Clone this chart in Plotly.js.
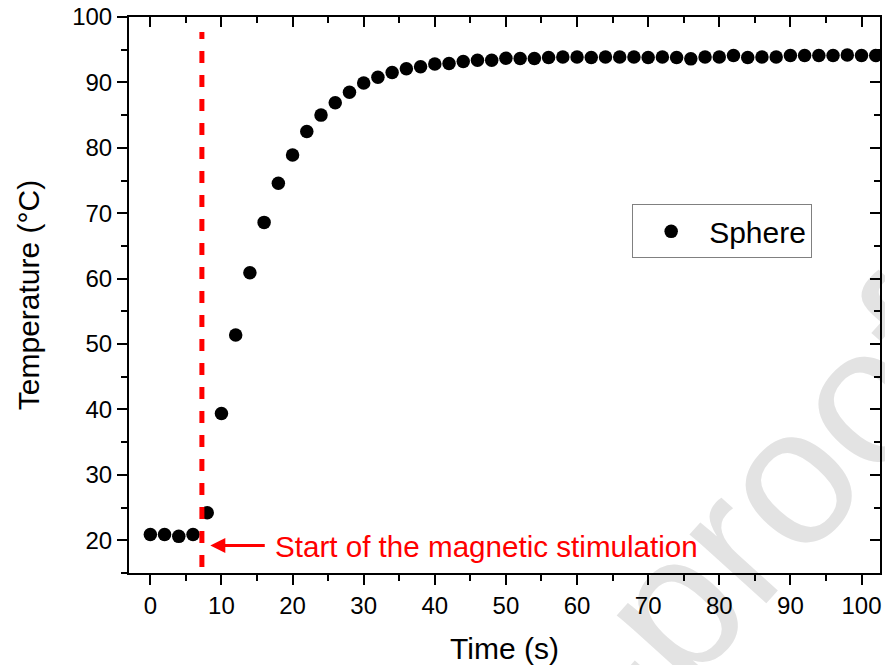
<!DOCTYPE html>
<html>
<head>
<meta charset="utf-8">
<script src="https://cdn.plot.ly/plotly-3.0.1.min.js"></script>
<style>html,body{margin:0;padding:0;background:#fff;}#chart{width:885px;height:665px;}</style>
</head>
<body>
<div id="chart"></div>
<script>
// ---- data ----
const timeSeconds = [0,2,4,6,8,10,12,14,16,18,20,22,24,26,28,30,32,34,36,38,40,42,44,46,48,50,
  52,54,56,58,60,62,64,66,68,70,72,74,76,78,80,82,84,86,88,90,92,94,96,98,100,102];
const sphereTemp = [20.9,20.9,20.6,20.9,24.2,39.4,51.4,60.9,68.6,74.6,78.9,82.5,85.0,86.9,88.5,89.9,
  90.8,91.5,92.1,92.4,92.8,92.9,93.2,93.4,93.4,93.7,93.65,93.65,93.8,93.9,93.9,93.8,93.9,93.9,
  93.9,93.8,93.9,93.8,93.6,93.9,93.9,94.1,93.8,93.9,93.9,94.1,94.1,94.1,94.1,94.2,94.1,94.1];
const seriesName = 'Sphere';
const stimulationStart = 7.25;          // time of the dashed red marker (s)
const stimulationLineSpan = [15.9, 97.7];
const annotationText = 'Start of the magnetic stimulation';
const xTitle = 'Time (s)';
const yTitle = 'Temperature (°C)';
const watermarkText = 'Journal Pre-proof';

const FONT = 'Liberation Sans, Arial, Helvetica, sans-serif';
const xRange = [-3, 102.6];
const yRange = [15, 100];

const traces = [
  {
    type: 'scatter', mode: 'markers', name: seriesName,
    x: timeSeconds, y: sphereTemp,
    marker: {color: '#000', size: 13.5},
    hoverinfo: 'skip'
  },
  {
    type: 'scatter', mode: 'markers', x: [], y: [],
    xaxis: 'x2', yaxis: 'y2', showlegend: false, hoverinfo: 'skip'
  }
];

const axCommon = {
  showline: true, linecolor: '#000', linewidth: 2,
  showgrid: false, zeroline: false,
  tickcolor: '#000', tickwidth: 2,
  tickfont: {family: FONT, size: 24, color: '#000'}
};

const layout = {
  width: 885, height: 665,
  margin: {l: 129, r: 5, t: 17, b: 92, pad: 0},
  paper_bgcolor: '#fff', plot_bgcolor: 'rgba(0,0,0,0)',
  font: {family: FONT, color: '#000'},
  showlegend: true,
  legend: {
    x: 0.67, y: 0.663, xanchor: 'left', yanchor: 'top',
    bgcolor: '#fff', bordercolor: '#808080', borderwidth: 1,
    font: {family: FONT, size: 30, color: '#000'},
    itemwidth: 66
  },
  xaxis: Object.assign({}, axCommon, {
    range: xRange, tick0: 0, dtick: 10, ticks: 'outside', ticklen: 10,
    minor: {ticks: 'outside', ticklen: 6, dtick: 5, tick0: 0, tickwidth: 2, tickcolor: '#000', showgrid: false},
    title: {text: xTitle, font: {family: FONT, size: 30, color: '#000'}, standoff: 21},
    automargin: false
  }),
  yaxis: Object.assign({}, axCommon, {
    range: yRange, tick0: 20, dtick: 10, ticks: 'outside', ticklen: 10,
    minor: {ticks: 'outside', ticklen: 6, dtick: 5, tick0: 0, tickwidth: 2, tickcolor: '#000', showgrid: false},
    title: {text: yTitle, font: {family: FONT, size: 30, color: '#000'}, standoff: 24},
    automargin: false
  }),
  xaxis2: Object.assign({}, axCommon, {
    overlaying: 'x', side: 'top', anchor: 'y2', range: xRange,
    tick0: 0, dtick: 10, ticks: 'inside', ticklen: 10, showticklabels: false,
    minor: {ticks: 'inside', ticklen: 6, dtick: 5, tick0: 0, tickwidth: 2, tickcolor: '#000', showgrid: false}
  }),
  yaxis2: Object.assign({}, axCommon, {
    overlaying: 'y', side: 'right', anchor: 'x2', range: yRange,
    tick0: 20, dtick: 10, ticks: 'inside', ticklen: 10, showticklabels: false,
    minor: {ticks: 'inside', ticklen: 6, dtick: 5, tick0: 0, tickwidth: 2, tickcolor: '#000', showgrid: false}
  }),
  shapes: [
    {
      type: 'line', xref: 'paper', yref: 'paper', layer: 'below',
      x0: 0.0226, y0: -1.0608, x1: 0.7364, y1: 0.0083,
      line: {color: 'rgba(0,0,0,0)', width: 0},
      label: {text: watermarkText, textangle: 'auto', textposition: 'middle', yanchor: 'middle',
              font: {family: FONT, size: 195, color: '#e3e3e3'}}
    },
    {
      type: 'line', xref: 'x', yref: 'y', layer: 'above',
      x0: stimulationStart, x1: stimulationStart,
      y0: stimulationLineSpan[0], y1: stimulationLineSpan[1],
      line: {color: '#ff0000', width: 5, dash: '12px,12px'}
    }
  ],
  annotations: [
    {
      xref: 'x', yref: 'y', axref: 'x', ayref: 'y',
      x: 8.43, y: 19.2, ax: 16.3, ay: 19.2,
      text: '', showarrow: true, arrowhead: 2, arrowsize: 1, arrowwidth: 3, arrowcolor: '#ff0000'
    },
    {
      xref: 'x', yref: 'y', x: 17.2, y: 19.0, xanchor: 'left', yanchor: 'middle',
      text: annotationText, showarrow: false,
      font: {family: FONT, size: 29.6, color: '#ff0000'}
    }
  ]
};

Plotly.newPlot('chart', traces, layout, {staticPlot: true, displayModeBar: false});
</script>
</body>
</html>
